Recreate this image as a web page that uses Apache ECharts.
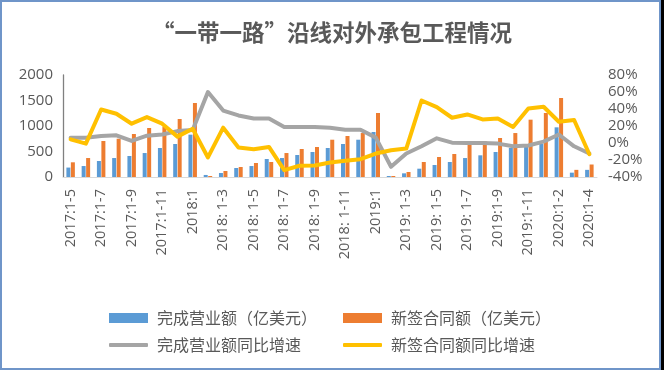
<!DOCTYPE html>
<html>
<head>
<meta charset="utf-8">
<script src="https://cdn.jsdelivr.net/npm/echarts@6/dist/echarts.min.js"></script>
<style>
html,body{margin:0;padding:0;background:#fff;}
#chart{position:absolute;left:0;top:0;width:664px;height:370px;}
#frame{position:absolute;left:0;top:0;width:661px;height:370px;box-sizing:border-box;border:2px solid #6f95c9;pointer-events:none;}
#strip{position:absolute;left:661px;top:0;width:3px;height:370px;background:#000;}
</style>
</head>
<body>
<div id="chart"></div>
<div id="frame"></div>
<div id="strip"></div>
<script>
const categories = [
  '2017:1-5','2017:1-6','2017:1-7','2017:1-8','2017:1-9','2017:1-10','2017:1-11','2017:1-12',
  '2018:1','2018: 1-2','2018: 1-3','2018: 1-4','2018: 1-5','2018: 1-6','2018: 1-7','2018: 1-8','2018: 1-9','2018: 1-10','2018: 1-11','2018: 1-12',
  '2019:1','2019: 1-2','2019: 1-3','2019: 1-4','2019: 1-5','2019: 1-6','2019: 1-7','2019:1-8','2019:1-9','2019:1-10','2019:1-11','2019:1-12',
  '2020:1-2','2020:1-3','2020:1-4'
];
const revenue = [185, 215, 314, 372, 412, 470, 569, 647, 830, 40, 78, 176, 215, 353, 372, 431, 490, 569, 647, 731, 882, 20, 72, 163, 235, 294, 372, 425, 490, 569, 600, 647, 974, 85, 140];
const contracts = [288, 372, 706, 751, 843, 961, 985, 1137, 1451, 20, 118, 196, 275, 294, 470, 549, 588, 731, 804, 862, 1255, 20, 98, 294, 392, 451, 633, 699, 765, 862, 1124, 1255, 1549, 140, 245];
const revenueGrowth = [6.3, 6.3, 8.3, 9, 2.4, 8.6, 10, 14, 15.2, 60, 38.2, 32.4, 28.9, 28.9, 18.8, 18.8, 18.8, 18, 15.7, 15.7, 6.3, -28, -12.4, -3.9, 5.5, 0.4, 0, 0, -0.7, -3.9, -3, 1.6, 10, -3.9, -12.4];
const contractGrowth = [4.3, -0.7, 39.4, 34.4, 22.7, 30.5, 22.7, 7.5, 16.8, -17, 18, -5.4, -7.4, -4.6, -32, -26.8, -26.5, -23, -21, -19, -12.4, -8.6, -6.6, 50, 42.2, 29.7, 33.6, 27.7, 28.9, 18.8, 40.6, 42.6, 25, 27, -13.2];
const leftTicks = {min: 0, max: 2000, interval: 500};
const rightTicks = {min: -40, max: 80, interval: 20};

const names = ['完成营业额（亿美元）','新签合同额（亿美元）','完成营业额同比增速','新签合同额同比增速'];
const colors = ['#5b9bd5','#ed7d31','#a5a5a5','#ffc000'];
const txt = '#595959';
const numFont = '"Open Sans", "Liberation Sans", sans-serif';
const cjkFont = '"Noto Sans CJK SC", sans-serif';

function legend(name, left, top, isLine) {
  return {
    data: [name], left: left, top: top, itemWidth: 39, itemHeight: isLine ? 4 : 10,
    icon: isLine ? 'roundRect' : 'rect',
    textStyle: {color: txt, fontSize: 16, fontFamily: cjkFont, padding: [0,0,0,4]},
    selectedMode: false
  };
}

const chart = echarts.init(document.getElementById('chart'), null, {renderer: 'canvas'});
chart.setOption({
  backgroundColor: '#fff',
  animation: false,
  title: {
    text: '“一带一路”沿线对外承包工程情况', left: 'center', top: 16,
    textStyle: {color: txt, fontSize: 22.5, fontWeight: 'bold', fontFamily: cjkFont}
  },
  legend: [
    legend(names[0], 104, 305, false),
    legend(names[1], 338, 305, false),
    legend(names[2], 104, 332, true),
    legend(names[3], 338, 332, true)
  ],
  grid: {left: 63, right: 67, top: 75, bottom: 193, containLabel: false},
  xAxis: {
    type: 'category', data: categories, boundaryGap: true,
    axisLine: {show: true, lineStyle: {color: '#d9d9d9', width: 1}},
    axisTick: {show: false},
    axisLabel: {interval: 1, rotate: 90, color: txt, fontSize: 14.5, fontFamily: numFont, margin: 12}
  },
  yAxis: [
    {
      type: 'value', min: leftTicks.min, max: leftTicks.max, interval: leftTicks.interval,
      axisLine: {show: true, lineStyle: {color: '#808080', width: 1.3}},
      axisTick: {show: false}, splitLine: {show: false},
      axisLabel: {color: txt, fontSize: 15, fontFamily: numFont, margin: 10, formatter: function (v) { return String(v); }}
    },
    {
      type: 'value', min: rightTicks.min, max: rightTicks.max, interval: rightTicks.interval,
      axisLine: {show: false}, axisTick: {show: false}, splitLine: {show: false},
      axisLabel: {color: txt, fontSize: 15, fontFamily: numFont, margin: 11, formatter: '{value}%'}
    }
  ],
  series: [
    {name: names[0], type: 'bar', data: revenue, yAxisIndex: 0, barWidth: 4, barGap: '12%', itemStyle: {color: colors[0]}},
    {name: names[1], type: 'bar', data: contracts, yAxisIndex: 0, barWidth: 4, barGap: '12%', itemStyle: {color: colors[1]}},
    {name: names[2], type: 'line', data: revenueGrowth, yAxisIndex: 1, symbol: 'none', showSymbol: false,
      lineStyle: {color: colors[2], width: 4, cap: 'round', join: 'round'}, itemStyle: {color: colors[2]}},
    {name: names[3], type: 'line', data: contractGrowth, yAxisIndex: 1, symbol: 'none', showSymbol: false,
      lineStyle: {color: colors[3], width: 4, cap: 'round', join: 'round'}, itemStyle: {color: colors[3]}}
  ]
});
</script>
</body>
</html>
